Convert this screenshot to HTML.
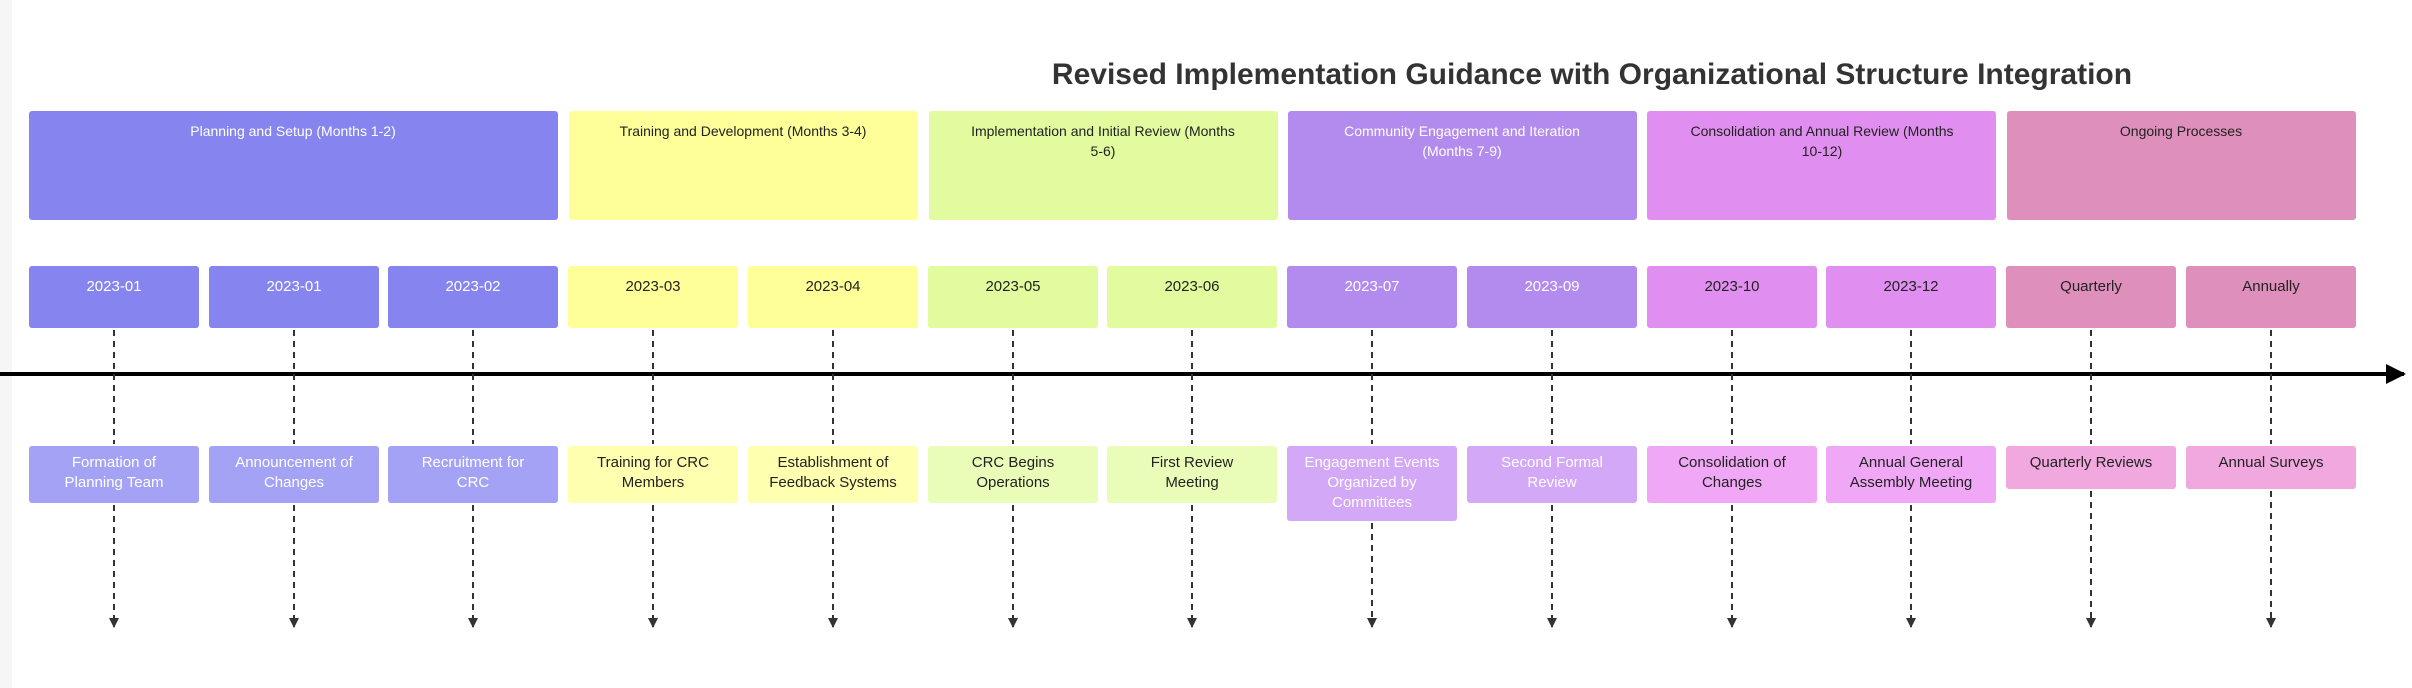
<!DOCTYPE html>
<html><head><meta charset="utf-8"><style>
html,body{margin:0;padding:0;background:#fff;}
svg{display:block;}
text{font-family:"Liberation Sans",sans-serif;}
</style></head><body>
<svg width="2412" height="688" viewBox="0 0 2412 688" xmlns="http://www.w3.org/2000/svg">
<defs>
<marker id="ah" markerWidth="10" markerHeight="10" refX="5" refY="9" orient="0" markerUnits="userSpaceOnUse">
<path d="M0,0 L10,0 L5,10 Z" fill="#333"/>
</marker>
<marker id="big" markerWidth="20" markerHeight="20" refX="18" refY="10" orient="auto" markerUnits="userSpaceOnUse">
<path d="M0,0 L20,10 L0,20 Z" fill="#000"/>
</marker>
</defs>
<rect x="0" y="0" width="12" height="688" fill="#f6f6f6"/>
<text x="1592" y="84" text-anchor="middle" font-size="30" font-weight="bold" fill="#333">Revised Implementation Guidance with Organizational Structure Integration</text>

<!-- sections -->
<g font-size="14">
<rect x="29" y="111" width="529" height="109" rx="3" fill="#8685ef"/>
<text x="293" y="136" text-anchor="middle" fill="#fff">Planning and Setup (Months 1-2)</text>
<rect x="569" y="111" width="349" height="109" rx="3" fill="#ffff99"/>
<text x="743" y="136" text-anchor="middle" fill="#222">Training and Development (Months 3-4)</text>
<rect x="929" y="111" width="349" height="109" rx="3" fill="#e2fb9f"/>
<text x="1103" y="136" text-anchor="middle" fill="#222">Implementation and Initial Review (Months</text>
<text x="1103" y="156" text-anchor="middle" fill="#222">5-6)</text>
<rect x="1288" y="111" width="349" height="109" rx="3" fill="#b38bef"/>
<text x="1462" y="136" text-anchor="middle" fill="#fff">Community Engagement and Iteration</text>
<text x="1462" y="156" text-anchor="middle" fill="#fff">(Months 7-9)</text>
<rect x="1647" y="111" width="349" height="109" rx="3" fill="#e08ff0"/>
<text x="1822" y="136" text-anchor="middle" fill="#222">Consolidation and Annual Review (Months</text>
<text x="1822" y="156" text-anchor="middle" fill="#222">10-12)</text>
<rect x="2007" y="111" width="349" height="109" rx="3" fill="#df8fbb"/>
<text x="2181" y="136" text-anchor="middle" fill="#222">Ongoing Processes</text>
</g>

<!-- axis -->
<line x1="0" y1="374" x2="2404" y2="374" stroke="#000" stroke-width="4" marker-end="url(#big)"/>

<!-- dashed connectors -->
<g stroke="#333" stroke-width="2" stroke-dasharray="6,5" fill="none">
<line x1="114" y1="330" x2="114" y2="444"/><line x1="114" y1="505" x2="114" y2="627" marker-end="url(#ah)"/>
<line x1="294" y1="330" x2="294" y2="444"/><line x1="294" y1="505" x2="294" y2="627" marker-end="url(#ah)"/>
<line x1="473" y1="330" x2="473" y2="444"/><line x1="473" y1="505" x2="473" y2="627" marker-end="url(#ah)"/>
<line x1="653" y1="330" x2="653" y2="444"/><line x1="653" y1="505" x2="653" y2="627" marker-end="url(#ah)"/>
<line x1="833" y1="330" x2="833" y2="444"/><line x1="833" y1="505" x2="833" y2="627" marker-end="url(#ah)"/>
<line x1="1013" y1="330" x2="1013" y2="444"/><line x1="1013" y1="505" x2="1013" y2="627" marker-end="url(#ah)"/>
<line x1="1192" y1="330" x2="1192" y2="444"/><line x1="1192" y1="505" x2="1192" y2="627" marker-end="url(#ah)"/>
<line x1="1372" y1="330" x2="1372" y2="444"/><line x1="1372" y1="523" x2="1372" y2="627" marker-end="url(#ah)"/>
<line x1="1552" y1="330" x2="1552" y2="444"/><line x1="1552" y1="505" x2="1552" y2="627" marker-end="url(#ah)"/>
<line x1="1732" y1="330" x2="1732" y2="444"/><line x1="1732" y1="505" x2="1732" y2="627" marker-end="url(#ah)"/>
<line x1="1911" y1="330" x2="1911" y2="444"/><line x1="1911" y1="505" x2="1911" y2="627" marker-end="url(#ah)"/>
<line x1="2091" y1="330" x2="2091" y2="444"/><line x1="2091" y1="491" x2="2091" y2="627" marker-end="url(#ah)"/>
<line x1="2271" y1="330" x2="2271" y2="444"/><line x1="2271" y1="491" x2="2271" y2="627" marker-end="url(#ah)"/>
</g>

<!-- date boxes -->
<g font-size="15" text-anchor="middle">
<rect x="29" y="266" width="170" height="62" rx="3" fill="#8685ef"/><text x="114" y="291" fill="#fff">2023-01</text>
<rect x="209" y="266" width="170" height="62" rx="3" fill="#8685ef"/><text x="294" y="291" fill="#fff">2023-01</text>
<rect x="388" y="266" width="170" height="62" rx="3" fill="#8685ef"/><text x="473" y="291" fill="#fff">2023-02</text>
<rect x="568" y="266" width="170" height="62" rx="3" fill="#ffff99"/><text x="653" y="291" fill="#222">2023-03</text>
<rect x="748" y="266" width="170" height="62" rx="3" fill="#ffff99"/><text x="833" y="291" fill="#222">2023-04</text>
<rect x="928" y="266" width="170" height="62" rx="3" fill="#e2fb9f"/><text x="1013" y="291" fill="#222">2023-05</text>
<rect x="1107" y="266" width="170" height="62" rx="3" fill="#e2fb9f"/><text x="1192" y="291" fill="#222">2023-06</text>
<rect x="1287" y="266" width="170" height="62" rx="3" fill="#b38bef"/><text x="1372" y="291" fill="#fff">2023-07</text>
<rect x="1467" y="266" width="170" height="62" rx="3" fill="#b38bef"/><text x="1552" y="291" fill="#fff">2023-09</text>
<rect x="1647" y="266" width="170" height="62" rx="3" fill="#e08ff0"/><text x="1732" y="291" fill="#222">2023-10</text>
<rect x="1826" y="266" width="170" height="62" rx="3" fill="#e08ff0"/><text x="1911" y="291" fill="#222">2023-12</text>
<rect x="2006" y="266" width="170" height="62" rx="3" fill="#df8fbb"/><text x="2091" y="291" fill="#222">Quarterly</text>
<rect x="2186" y="266" width="170" height="62" rx="3" fill="#df8fbb"/><text x="2271" y="291" fill="#222">Annually</text>
</g>

<!-- event boxes -->
<g font-size="15" text-anchor="middle">
<rect x="29" y="446" width="170" height="57" rx="3" fill="#a3a2f5"/><text x="114" y="467" fill="#fff">Formation of</text><text x="114" y="487" fill="#fff">Planning Team</text>
<rect x="209" y="446" width="170" height="57" rx="3" fill="#a3a2f5"/><text x="294" y="467" fill="#fff">Announcement of</text><text x="294" y="487" fill="#fff">Changes</text>
<rect x="388" y="446" width="170" height="57" rx="3" fill="#a3a2f5"/><text x="473" y="467" fill="#fff">Recruitment for</text><text x="473" y="487" fill="#fff">CRC</text>
<rect x="568" y="446" width="170" height="57" rx="3" fill="#ffffb0"/><text x="653" y="467" fill="#222">Training for CRC</text><text x="653" y="487" fill="#222">Members</text>
<rect x="748" y="446" width="170" height="57" rx="3" fill="#ffffb0"/><text x="833" y="467" fill="#222">Establishment of</text><text x="833" y="487" fill="#222">Feedback Systems</text>
<rect x="928" y="446" width="170" height="57" rx="3" fill="#eafdb8"/><text x="1013" y="467" fill="#222">CRC Begins</text><text x="1013" y="487" fill="#222">Operations</text>
<rect x="1107" y="446" width="170" height="57" rx="3" fill="#eafdb8"/><text x="1192" y="467" fill="#222">First Review</text><text x="1192" y="487" fill="#222">Meeting</text>
<rect x="1287" y="446" width="170" height="75" rx="3" fill="#d3a8f6"/><text x="1372" y="467" fill="#fff">Engagement Events</text><text x="1372" y="487" fill="#fff">Organized by</text><text x="1372" y="507" fill="#fff">Committees</text>
<rect x="1467" y="446" width="170" height="57" rx="3" fill="#d3a8f6"/><text x="1552" y="467" fill="#fff">Second Formal</text><text x="1552" y="487" fill="#fff">Review</text>
<rect x="1647" y="446" width="170" height="57" rx="3" fill="#f0a8f6"/><text x="1732" y="467" fill="#222">Consolidation of</text><text x="1732" y="487" fill="#222">Changes</text>
<rect x="1826" y="446" width="170" height="57" rx="3" fill="#f0a8f6"/><text x="1911" y="467" fill="#222">Annual General</text><text x="1911" y="487" fill="#222">Assembly Meeting</text>
<rect x="2006" y="446" width="170" height="43" rx="3" fill="#f1a8df"/><text x="2091" y="467" fill="#222">Quarterly Reviews</text>
<rect x="2186" y="446" width="170" height="43" rx="3" fill="#f1a8df"/><text x="2271" y="467" fill="#222">Annual Surveys</text>
</g>
</svg>
</body></html>
